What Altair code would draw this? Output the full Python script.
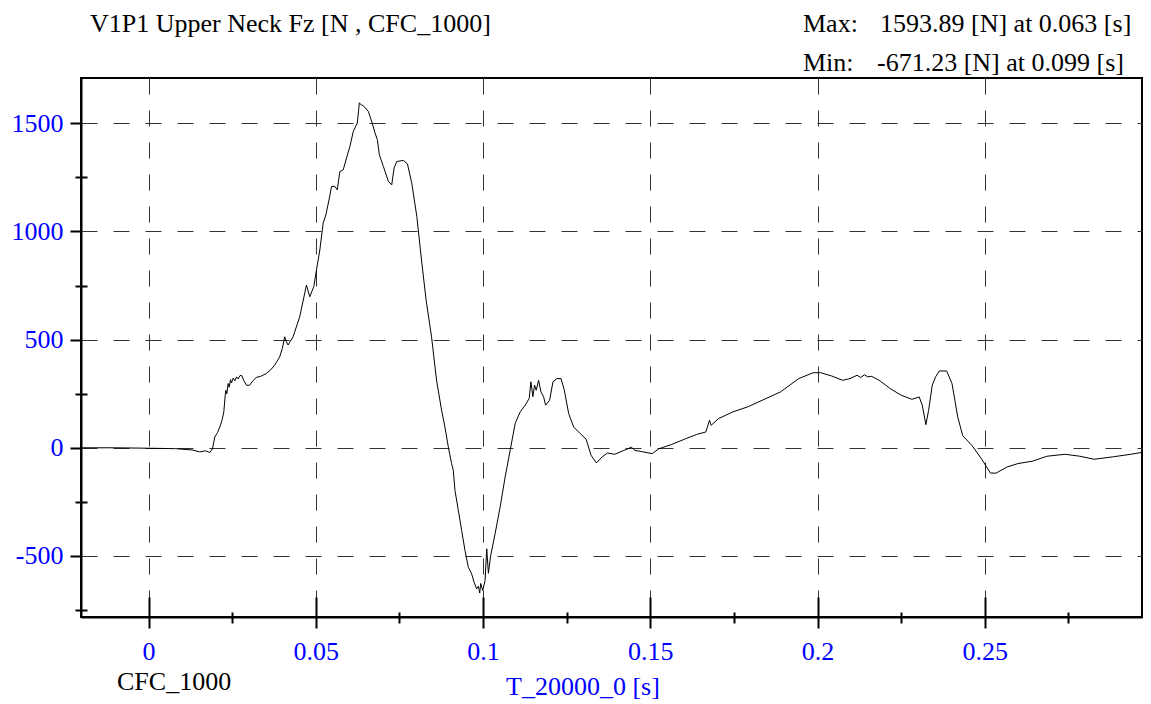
import altair as alt
import pandas as pd

# ---- data ----
t_s = [
    -0.0202, -0.010, 0.000, 0.008, 0.013, 0.0153, 0.0170, 0.0183, 0.0191, 0.0198,
    0.0206, 0.0213, 0.0220, 0.0225, 0.0229, 0.0231, 0.0234, 0.0238, 0.0241, 0.0245,
    0.0248, 0.0253, 0.0258, 0.0263, 0.0268, 0.0273, 0.0278, 0.0285, 0.0293, 0.0302,
    0.0312, 0.0322, 0.0335, 0.0345, 0.0352, 0.0365, 0.0377, 0.0392, 0.0400, 0.0407,
    0.0412, 0.0417, 0.0432, 0.0452, 0.0472, 0.0482, 0.0494, 0.0502, 0.0512, 0.0522,
    0.0530, 0.0540, 0.0547, 0.0557, 0.0564, 0.0572, 0.0582, 0.0592, 0.0602, 0.0612,
    0.0624, 0.0628, 0.0630, 0.0636, 0.0642, 0.0657, 0.0667, 0.0677, 0.0684, 0.0690,
    0.0702, 0.0717, 0.0727, 0.0734, 0.0742, 0.0762, 0.0774, 0.0787, 0.0802, 0.0817,
    0.0830, 0.0846, 0.0861, 0.0876, 0.0886, 0.0896, 0.0906, 0.0911, 0.0916, 0.0926,
    0.0936, 0.0946, 0.0956, 0.0966, 0.0973, 0.0981, 0.0986, 0.0990, 0.0993, 0.0999,
    0.1006, 0.1011, 0.1016, 0.1023, 0.1036, 0.1051, 0.1066, 0.1081, 0.1096, 0.1111,
    0.1126, 0.1138, 0.1143, 0.1149, 0.1154, 0.1159, 0.1166, 0.1173, 0.1181, 0.1187,
    0.1199, 0.1209, 0.1221, 0.1233, 0.1243, 0.1256, 0.1271, 0.1291, 0.1308, 0.1323,
    0.1339, 0.1356, 0.1372, 0.1394, 0.1421, 0.1433, 0.1443, 0.1454, 0.1475, 0.1506,
    0.1525, 0.1563, 0.1606, 0.1639, 0.1666, 0.1677, 0.1682, 0.1704, 0.1747, 0.1791,
    0.1835, 0.1889, 0.1944, 0.1987, 0.2009, 0.2042, 0.2075, 0.2097, 0.2118, 0.2129,
    0.2140, 0.2150, 0.2162, 0.2184, 0.2217, 0.2250, 0.2282, 0.2304, 0.2313, 0.2324,
    0.2332, 0.2343, 0.2353, 0.2364, 0.2386, 0.2402, 0.2419, 0.2434, 0.2462, 0.2490,
    0.2517, 0.2534, 0.2566, 0.2599, 0.2642, 0.2686, 0.2740, 0.2784, 0.2827, 0.2882,
    0.2936, 0.2994,
]
fz_n = [
    0, 0, -2, -4, -10, -19, -14, -22, -5, 50,
    70, 96, 130, 166, 240, 266, 250, 297, 280, 315,
    300, 322, 310, 328, 318, 333, 335, 310, 289, 289,
    310, 325, 330, 338, 343, 360, 382, 420, 460, 513,
    490, 475, 513, 606, 752, 698, 745, 822, 914, 1038,
    1076, 1150, 1208, 1208, 1192, 1277, 1285, 1340, 1393, 1462,
    1501, 1560, 1594, 1585, 1581, 1555, 1509, 1455, 1424, 1354,
    1300, 1231, 1215, 1293, 1323, 1328, 1312, 1222, 1069, 853,
    680, 513, 312, 174, 96, 5, -73, -104, -197, -289,
    -382, -475, -552, -583, -621, -652, -640, -671, -627, -660,
    -613, -467, -580, -497, -397, -274, -135, -12, 112, 166,
    197, 228, 305, 236, 290, 266, 312, 259, 236, 197,
    220, 305, 320, 320, 266, 158, 96, 65, 40, -35,
    -70, -42, -24, -30, -12, -5, 3, -12, -18, -27,
    -5, 15, 42, 62, 73, 127, 104, 135, 166, 189,
    220, 258, 320, 347, 347, 332, 312, 320, 335, 325,
    337, 328, 330, 312, 274, 243, 224, 235, 197, 107,
    173, 290, 328, 355, 355, 297, 143, 56, 10, -51,
    -117, -117, -89, -73, -62, -39, -30, -39, -53, -42,
    -30, -15,
]

x_major = [0, 0.05, 0.1, 0.15, 0.2, 0.25]
x_minor = [0.025, 0.075, 0.125, 0.175, 0.225, 0.275]
y_major = [-500, 0, 500, 1000, 1500]
y_minor = [-750, -250, 250, 750, 1250]
x_domain = [-0.0202, 0.2970]
y_domain = [-782, 1709]

title_text = "V1P1 Upper Neck Fz [N , CFC_1000]"
max_label = "Max:"
max_text = "1593.89 [N] at 0.063 [s]"
min_label = "Min:"
min_text = "-671.23 [N] at 0.099 [s]"
filter_text = "CFC_1000"
x_title = "T_20000_0 [s]"

FONT = "Liberation Serif"
FS = 26
BLUE = "#0000ff"

df = pd.DataFrame({"t": t_s, "fz": fz_n})
xscale = alt.Scale(domain=x_domain, nice=False, zero=False)
yscale = alt.Scale(domain=y_domain, nice=False, zero=False)

base = alt.Chart(df)

main = base.mark_line(color="black", strokeWidth=1, clip=True).encode(
    x=alt.X("t:Q", scale=xscale, axis=alt.Axis(
        orient="bottom", values=x_major, title=None, labelExpr="toString(datum.value)",
        grid=True, gridDash=[16, 16], gridColor="#333333", gridWidth=1,
        domain=True, domainColor="black", domainWidth=2,
        ticks=True, tickColor="black", tickWidth=2, tickSize=11,
        labelFont=FONT, labelFontSize=FS, labelColor=BLUE, labelPadding=31,
        labelBaseline="alphabetic", labelFlush=False, labelOverlap=False)),
    y=alt.Y("fz:Q", scale=yscale, axis=alt.Axis(
        orient="left", values=y_major, title=None, labelExpr="toString(datum.value)",
        grid=True, gridDash=[16, 16], gridColor="#333333", gridWidth=1,
        domain=True, domainColor="black", domainWidth=2,
        ticks=True, tickColor="black", tickWidth=2, tickSize=11,
        labelFont=FONT, labelFontSize=FS, labelColor=BLUE, labelPadding=7,
        labelAlign="right", labelBaseline="middle", labelFlush=False, labelOverlap=False)),
)

def tick_layer(channel, values, offset, size):
    ax = alt.Axis(orient="bottom" if channel == "x" else "left", values=values,
                  offset=offset, tickSize=size, ticks=True, tickColor="black",
                  tickWidth=2, labels=False, domain=False, grid=False, title=None)
    if channel == "x":
        enc = dict(x=alt.X("t:Q", scale=xscale, axis=ax),
                   y=alt.Y("fz:Q", scale=yscale, axis=None))
    else:
        enc = dict(x=alt.X("t:Q", scale=xscale, axis=None),
                   y=alt.Y("fz:Q", scale=yscale, axis=ax))
    return base.mark_line(opacity=0).encode(**enc)

x_cross = tick_layer("x", x_major, -20, 20)
x_minor_l = tick_layer("x", x_minor, -5, 11)
y_minor_l = tick_layer("y", y_minor, -6, 12)

def note(text, x, y, color="black", align="left"):
    return alt.Chart(alt.Data(values=[{}])).mark_text(
        text=text, align=align, baseline="alphabetic", font=FONT, fontSize=FS,
        color=color).encode(x=alt.value(x), y=alt.value(y))

notes = [
    note(title_text, 9, -46),
    note(max_label, 722, -46),
    note(max_text, 799, -46),
    note(min_label, 722, -7),
    note(min_text, 796, -7),
    note(filter_text, 36, 612),
    note(x_title, 425, 617, color=BLUE),
]

chart = alt.layer(main, x_cross, x_minor_l, y_minor_l, *notes).resolve_axis(
    x="independent", y="independent"
).properties(
    width=1061, height=539,
    autosize=alt.AutoSizeParams(type="none"),
    padding={"left": 73, "top": 70, "right": 1, "bottom": 87},
    background="white",
).configure_view(stroke="black", strokeWidth=2)

chart.save("out.html", embed_options={"renderer": "svg", "actions": False})
